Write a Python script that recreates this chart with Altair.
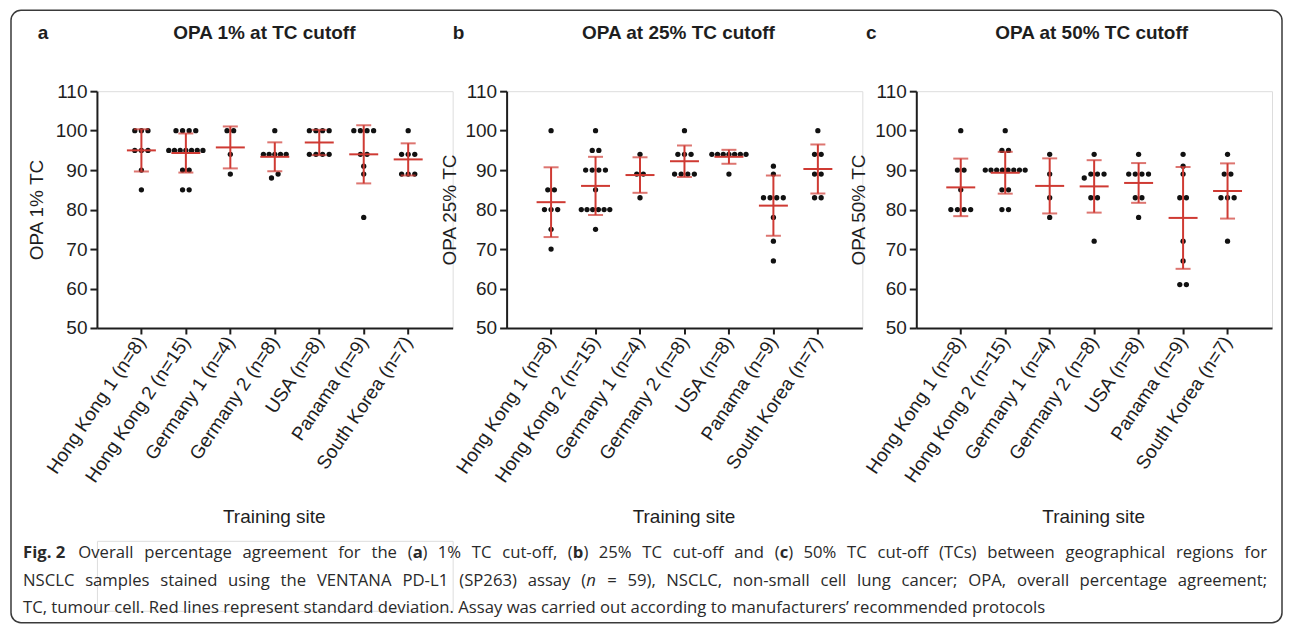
import altair as alt
import pandas as pd

# ---------------- data ----------------
SITES = ["Hong Kong 1", "Hong Kong 2", "Germany 1", "Germany 2", "USA", "Panama", "South Korea"]
N_SAMPLES = [8, 15, 4, 8, 8, 9, 7]
LABELS = [f"{s} (n={n})" for s, n in zip(SITES, N_SAMPLES)]

OPA_1 = [
    [100, 100, 100, 95, 95, 95, 90, 85],
    [100, 100, 100, 100, 95, 95, 95, 95, 95, 95, 95, 90, 90, 85, 85],
    [100, 100, 94, 89],
    [100, 94, 94, 94, 94, 94, 89, 88],
    [100, 100, 100, 100, 94, 94, 94, 94],
    [100, 100, 100, 100, 94, 94, 91, 89, 78],
    [100, 94, 94, 94, 89, 89, 89],
]
OPA_25 = [
    [100, 85, 85, 80, 80, 80, 75, 70],
    [100, 95, 95, 90, 90, 90, 90, 85, 80, 80, 80, 80, 80, 80, 75],
    [94, 89, 89, 83],
    [100, 94, 94, 94, 89, 89, 89, 89],
    [94, 94, 94, 94, 94, 94, 94, 89],
    [91, 89, 83, 83, 83, 83, 78, 72, 67],
    [100, 94, 94, 89, 89, 83, 83],
]
OPA_50 = [
    [100, 90, 90, 85, 80, 80, 80, 80],
    [100, 95, 95, 90, 90, 90, 90, 90, 90, 90, 90, 85, 85, 80, 80],
    [94, 89, 83, 78],
    [94, 89, 89, 89, 88, 83, 83, 72],
    [94, 89, 89, 89, 89, 83, 83, 78],
    [94, 91, 89, 83, 83, 72, 67, 61, 61],
    [94, 89, 89, 83, 83, 83, 72],
]

PANEL_TITLES = ["OPA 1% at TC cutoff", "OPA at 25% TC cutoff", "OPA at 50% TC cutoff"]
PANEL_LETTERS = ["a", "b", "c"]
Y_TITLES = ["OPA 1% TC", "OPA 25% TC", "OPA 50% TC"]
X_TITLE = "Training site"
Y_TICKS = [50, 60, 70, 80, 90, 100, 110]

CAPTION_BOLD = "Fig. 2"
CAPTION_1 = ("Overall percentage agreement for the (a) 1% TC cut-off, (b) 25% TC cut-off and (c) 50% TC "
             "cut-off (TCs) between geographical regions for")
CAPTION_2 = ("NSCLC samples stained using the VENTANA PD-L1 (SP263) assay (n = 59), NSCLC, non-small cell "
             "lung cancer; OPA, overall percentage agreement;")
CAPTION_3 = ("TC, tumour cell. Red lines represent standard deviation. Assay was carried out according to "
             "manufacturers\u2019 recommended protocols")
# words of the caption that carry a bold or italic letter: (before, styled letter, after, style)
STYLED = {"(a)": ("(", "a", ")", "bold"), "(b)": ("(", "b", ")", "bold"),
          "(c)": ("(", "c", ")", "bold"), "(n": ("(", "n", "", "italic")}

# ---------------- style ----------------
FONT = "Liberation Sans"
INK = "#1e1e1e"
RED = "#cf3a33"
FS = 19
W, H = 356, 237
STEP = W / 8.0


def swarm(values):
    """Centre each horizontal row of equal (or touching) values around the category."""
    order = sorted(values, reverse=True)
    rows, cur = [], [order[0]]
    for v in order[1:]:
        if cur[0] - v <= 1:
            cur.append(v)
        else:
            rows.append(cur)
            cur = [v]
    rows.append(cur)
    out = []
    for r in rows:
        r = sorted(r)
        k = len(r)
        sp = 6.6 if k <= 4 else 5.7
        for i, v in enumerate(r):
            out.append((v, (i - (k - 1) / 2.0) * sp))
    return out


def panel(values, ytitle, letter, title, letter_dx, title_dx, ytitle_dx):
    rows = []
    for lab, vals in zip(LABELS, values):
        for v, off in swarm(vals):
            rows.append({"site": lab, "value": v, "off": off})
    df = pd.DataFrame(rows)

    xscale = alt.Scale(domain=LABELS, paddingInner=0, paddingOuter=0.5)
    yscale = alt.Scale(domain=[50, 110], nice=False, zero=False)
    xaxis = alt.Axis(
        labelAngle=-56, labelAlign="right", labelBaseline="middle", labelPadding=4,
        labelFontSize=FS, labelFont=FONT, labelColor=INK,
        tickSize=6, tickWidth=2, tickColor=INK, domainWidth=2, domainColor=INK,
        titleFont=FONT, titleFontSize=FS, titleFontWeight="normal", titleColor=INK,
        titleY=189, titleBaseline="middle", titleX=W / 2 - 1, titleAnchor="middle",
    )
    yaxis = alt.Axis(
        values=Y_TICKS, grid=False, labelFontSize=FS, labelFont=FONT, labelColor=INK,
        labelPadding=3, tickSize=7, tickWidth=2, tickColor=INK, domainWidth=2, domainColor=INK,
        titleFont=FONT, titleFontSize=FS, titleFontWeight="normal", titleColor=INK,
        titleX=ytitle_dx, titleY=H / 2, titleAngle=-90, titleBaseline="middle", titleAlign="center",
    )
    x = alt.X("site:N", sort=LABELS, scale=xscale, axis=xaxis, title=X_TITLE)

    pts = alt.Chart(df).mark_circle(size=28, color="#111111", opacity=1).encode(
        x=x,
        y=alt.Y("value:Q", scale=yscale, axis=yaxis, title=ytitle),
        xOffset=alt.XOffset("off:Q", scale=alt.Scale(domain=[-STEP / 2, STEP / 2])),
    )
    err = alt.Chart(df).mark_errorbar(
        extent="stdev", ticks=True, size=15, thickness=2, color=RED,
        rule=alt.MarkConfig(strokeWidth=2),
    ).encode(
        x=x,
        y=alt.Y("value:Q", scale=yscale, axis=yaxis, title=ytitle),
    )
    mean = alt.Chart(df).mark_tick(size=29, thickness=2, color=RED, opacity=1).encode(
        x=x,
        y=alt.Y("mean(value):Q", scale=yscale, axis=yaxis, title=ytitle),
    )
    head = pd.DataFrame({"letter": [letter], "title": [title]})
    let = alt.Chart(head).mark_text(
        font=FONT, fontSize=FS, fontWeight="bold", color=INK, align="center", baseline="middle"
    ).encode(x=alt.value(letter_dx), y=alt.value(-58), text="letter:N")
    tit = alt.Chart(head).mark_text(
        font=FONT, fontSize=FS, fontWeight="bold", color=INK, align="center", baseline="middle"
    ).encode(x=alt.value(title_dx), y=alt.value(-58), text="title:N")
    return alt.layer(pts, err, mean, let, tit).properties(width=W, height=H)


pa = panel(OPA_1, Y_TITLES[0], PANEL_LETTERS[0], PANEL_TITLES[0], -54, 167.5, -60)
pb = panel(OPA_25, Y_TITLES[1], PANEL_LETTERS[1], PANEL_TITLES[1], -48, 172, -57)
pc = panel(OPA_50, Y_TITLES[2], PANEL_LETTERS[2], PANEL_TITLES[2], -45, 175.5, -58)

# ---------------- caption (justified like the journal's) + frame ----------------
CAP_FONT = "Open Sans"
CAP_SIZE = 16.7
CAP_COL = "#2a2a2a"
CAP_LEFT, CAP_RIGHT = -74, 1171          # relative to the first panel's plot area
CAP_Y = [12, 40, 67]
# approximate Open Sans advance widths (1/2048 em), only used to spread words
OS = dict(zip("abcdefghijklmnopqrstuvwxyz",
              [1139, 1255, 975, 1255, 1149, 694, 1122, 1257, 518, 518, 1075, 518, 1905,
               1257, 1237, 1255, 1255, 836, 977, 723, 1257, 1026, 1593, 1073, 1028, 977]))
OS.update(zip("ABCDEFGHIJKLMNOPQRSTUVWXYZ",
              [1296, 1327, 1292, 1493, 1139, 1057, 1491, 1511, 571, 547, 1257, 1073, 1849,
               1563, 1593, 1264, 1593, 1300, 1104, 1114, 1491, 1245, 1905, 1194, 1155, 1149]))
OS.update({c: 1171 for c in "0123456789="})
OS.update({"(": 608, ")": 608, "%": 1696, ",": 502, "-": 659, ";": 551, ".": 545, " ": 532})
# natural widths measured from an 18 px rendering, used to calibrate the table
NATURAL_18 = {1: 1128.0, 2: 1198.0}
BOLD_18 = 48.0


def est(word):
    return sum(OS.get(c, 1150) for c in word) / 2048.0


def justify(line_no, text, lead=None):
    words = text.split(" ")
    sc = CAP_SIZE / 18.0
    est_total = (sum(est(w) for w in words) + (len(words) - 1) * OS[" "] / 2048.0) * CAP_SIZE
    k = NATURAL_18[line_no] * sc / est_total
    px = CAP_SIZE * k
    items = []
    if lead is not None:
        items.append((lead, "bold", BOLD_18 * sc))
    items += [(w, "normal", est(w) * px) for w in words]
    gap = (CAP_RIGHT - CAP_LEFT - sum(i[2] for i in items)) / (len(items) - 1)
    out, x = [], CAP_LEFT
    half = len(items) / 2.0
    y = CAP_Y[line_no - 1]
    for idx, (w, style, wd) in enumerate(items):
        if w in STYLED:
            pre, mid, post, st = STYLED[w]
            x1 = x + est(pre) * px
            x2 = x1 + est(mid) * px * (1.06 if st == "bold" else 1.0)
            out.append({"word": pre, "style": "normal", "right": False, "x": x, "y": y})
            out.append({"word": mid, "style": st, "right": False, "x": x1, "y": y})
            if post:
                out.append({"word": post, "style": "normal", "right": False, "x": x2, "y": y})
        else:
            right = idx >= half
            out.append({"word": w, "style": style, "right": right,
                        "x": x + wd if right else x, "y": y})
        x += wd + gap
    return out


words = pd.DataFrame(justify(1, CAPTION_1, CAPTION_BOLD) + justify(2, CAPTION_2))
last = pd.DataFrame({"t": [CAPTION_3], "x": [CAP_LEFT], "y": [CAP_Y[2]]})

CAP_TOP = 450  # caption view top, measured from panel top
frame = alt.Chart(last).mark_rect(
    filled=False, stroke="#3a3a3a", strokeWidth=1.5, cornerRadius=10
).encode(x=alt.value(-86), x2=alt.value(1186), y=alt.value(-81 - CAP_TOP), y2=alt.value(82))


def words_chart(df, style, align):
    kw = {}
    if style == "bold":
        kw["fontWeight"] = "bold"
    if style == "italic":
        kw["fontStyle"] = "italic"
    return alt.Chart(df).mark_text(
        font=CAP_FONT, fontSize=CAP_SIZE, color=CAP_COL, align=align, baseline="middle", **kw
    ).encode(
        x=alt.X("x:Q", scale=None, axis=None),
        y=alt.Y("y:Q", scale=None, axis=None),
        text="word:N",
    )


layers = [frame]
for st in ["normal", "bold", "italic"]:
    for rgt, al in [(False, "left"), (True, "right")]:
        sub = words[(words["style"] == st) & (words["right"] == rgt)]
        if len(sub):
            layers.append(words_chart(sub, st, al))
t3 = alt.Chart(last).mark_text(font=CAP_FONT, fontSize=CAP_SIZE, color=CAP_COL,
                               align="left", baseline="middle").encode(
    x=alt.X("x:Q", scale=None, axis=None), y=alt.Y("y:Q", scale=None, axis=None), text="t:N")
layers.append(t3)
caption = alt.layer(*layers).properties(width=W, height=70)

chart = alt.concat(
    pa, pb, pc, caption, columns=3,
    spacing={"row": CAP_TOP - H, "column": 54}, bounds="flush",
    padding={"left": 1, "top": 0, "right": 0, "bottom": 0},
).configure_view(strokeWidth=0).configure(background="white")

chart.save("out.html", embed_options={"renderer": "svg", "actions": False})
